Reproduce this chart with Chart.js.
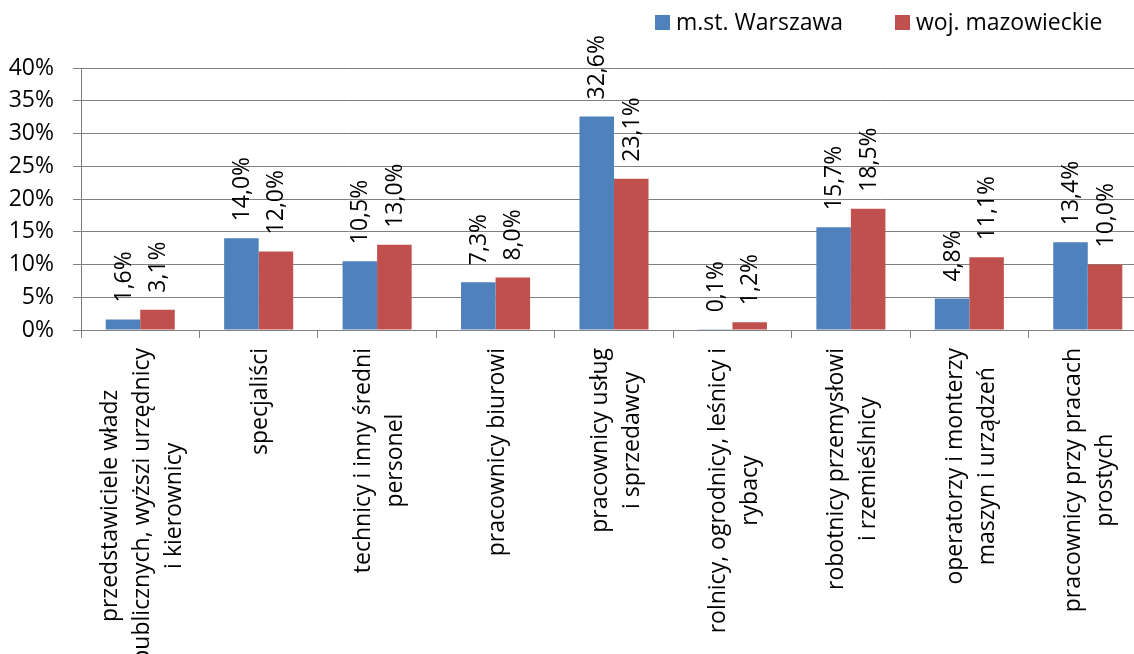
<!DOCTYPE html>
<html>
<head>
<meta charset="utf-8">
<script src="https://cdn.jsdelivr.net/npm/chart.js@4"></script>
<style>
  html, body { margin: 0; padding: 0; background: #fff; overflow: hidden; }
  #wrap { position: relative; width: 1147px; height: 654px; }
</style>
</head>
<body>
<div id="wrap"><canvas id="chart"></canvas></div>
<script>
// Categories (each entry is the list of lines of a rotated label)
const categories = [
    ['przedstawiciele władz', 'publicznych, wyższi urzędnicy', 'i kierownicy'],
    ['specjaliści'],
    ['technicy i inny średni', 'personel'],
    ['pracownicy biurowi'],
    ['pracownicy usług', 'i sprzedawcy'],
    ['rolnicy, ogrodnicy, leśnicy i', 'rybacy'],
    ['robotnicy przemysłowi', 'i rzemieślnicy'],
    ['operatorzy i monterzy', 'maszyn i urządzeń'],
    ['pracownicy przy pracach', 'prostych']
];

const seriesNames = ['m.st. Warszawa', 'woj. mazowieckie'];
const warszawa = [1.6, 14.0, 10.5, 7.3, 32.6, 0.1, 15.7, 4.8, 13.4];
const mazowieckie = [3.1, 12.0, 13.0, 8.0, 23.1, 1.2, 18.5, 11.1, 10.0];

const yTicks = [0, 5, 10, 15, 20, 25, 30, 35, 40];

const FONT = '"Open Sans", sans-serif';
const FONT_SIZE = 23;
const GRID = '#808080';

function fmt(v) {
    return v.toFixed(1).replace('.', ',') + '%';
}

// Data labels above the bars, rotated
const barLabels = {
    id: 'barLabels',
    afterDatasetsDraw(chart) {
        const ctx = chart.ctx;
        ctx.save();
        ctx.font = FONT_SIZE + 'px ' + FONT;
        ctx.fillStyle = '#000';
        ctx.textAlign = 'left';
        ctx.textBaseline = 'middle';
        chart.data.datasets.forEach((ds, di) => {
            const meta = chart.getDatasetMeta(di);
            meta.data.forEach((bar, i) => {
                ctx.save();
                ctx.translate(bar.x + 1, bar.y - 17);
                ctx.rotate(-Math.PI / 2);
                ctx.fillText(fmt(ds.data[i]), 0, 0);
                ctx.restore();
            });
        });
        ctx.restore();
    }
};

// Category labels: rotated, lines centred on each other
const categoryLabels = {
    id: 'categoryLabels',
    afterDraw(chart) {
        const ctx = chart.ctx;
        const xScale = chart.scales.x;
        const top = chart.chartArea.bottom + 18;
        const lineH = 32;
        ctx.save();
        ctx.font = FONT_SIZE + 'px ' + FONT;
        ctx.fillStyle = '#000';
        ctx.textAlign = 'center';
        ctx.textBaseline = 'middle';
        categories.forEach((lines, i) => {
            const x = xScale.getPixelForValue(i) + 2;
            const maxW = Math.max(...lines.map(l => ctx.measureText(l).width));
            ctx.save();
            ctx.translate(x, top);
            ctx.rotate(-Math.PI / 2);
            lines.forEach((line, j) => {
                const off = (j - (lines.length - 1) / 2) * lineH;
                ctx.fillText(line, -maxW / 2, off);
            });
            ctx.restore();
        });
        ctx.restore();
    }
};

// Legend in the top right corner
const legendBoxes = {
    id: 'legendBoxes',
    afterDraw(chart) {
        const ctx = chart.ctx;
        const starts = [655, 895];
        ctx.save();
        ctx.font = FONT_SIZE + 'px ' + FONT;
        ctx.textAlign = 'left';
        ctx.textBaseline = 'middle';
        chart.data.datasets.forEach((ds, i) => {
            ctx.fillStyle = ds.backgroundColor;
            ctx.fillRect(starts[i], 15, 15, 15);
            ctx.fillStyle = '#000';
            ctx.fillText(ds.label, starts[i] + 21, 23);
        });
        ctx.restore();
    }
};

const ctx = document.getElementById('chart').getContext('2d');
new Chart(ctx, {
    type: 'bar',
    data: {
        labels: categories.map(l => l.join(' ')),
        datasets: [
            { label: seriesNames[0], data: warszawa, backgroundColor: '#4F81BD' },
            { label: seriesNames[1], data: mazowieckie, backgroundColor: '#C0504D' }
        ]
    },
    options: {
        responsive: true,
        maintainAspectRatio: false,
        animation: false,
        events: [],
        layout: { padding: { top: 68, right: 0, bottom: 0, left: 0 } },
        datasets: {
            bar: { categoryPercentage: 0.583, barPercentage: 1.0 }
        },
        plugins: {
            legend: { display: false },
            tooltip: { enabled: false }
        },
        scales: {
            x: {
                grid: {
                    display: true,
                    drawOnChartArea: false,
                    drawTicks: true,
                    tickLength: 8,
                    color: GRID,
                    offset: true
                },
                border: { display: true, color: GRID, width: 1 },
                ticks: { display: false },
                afterFit(scale) { scale.height = 324; }
            },
            y: {
                min: 0,
                max: 40,
                afterBuildTicks(scale) {
                    scale.ticks = yTicks.map(v => ({ value: v }));
                },
                grid: { color: GRID, tickLength: 8, lineWidth: 1 },
                border: { display: true, color: GRID, width: 1 },
                ticks: {
                    padding: 19,
                    color: '#000',
                    font: { family: FONT, size: FONT_SIZE },
                    callback: v => v + '%'
                },
                afterFit(scale) { scale.width = 81; }
            }
        }
    },
    plugins: [barLabels, categoryLabels, legendBoxes]
});
</script>
</body>
</html>
